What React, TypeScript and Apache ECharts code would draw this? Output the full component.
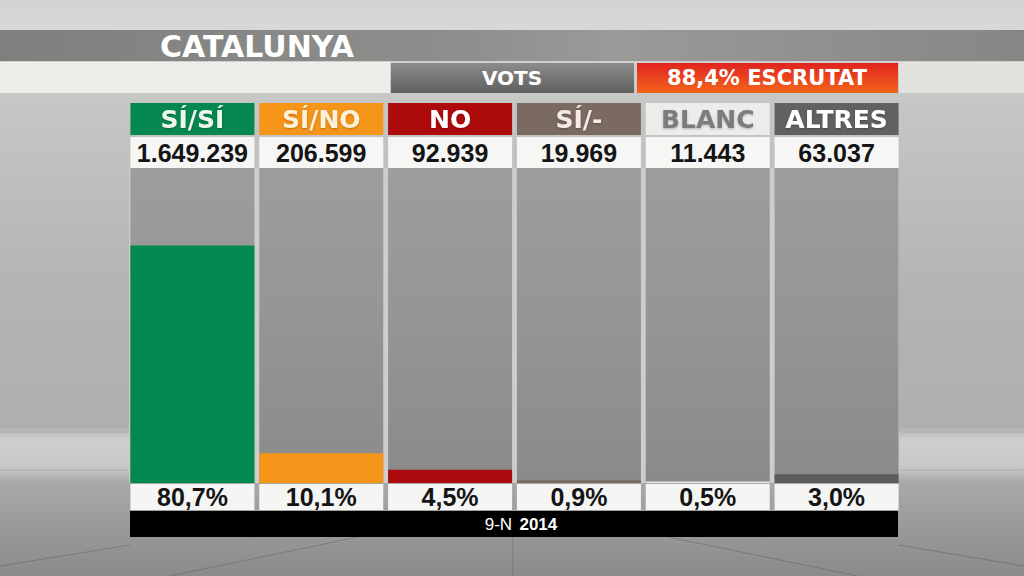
import React, { useEffect, useRef } from "react";
import * as echarts from "echarts";

const categories = ["SÍ/SÍ", "SÍ/NO", "NO", "SÍ/-", "BLANC", "ALTRES"];
const votes = ["1.649.239", "206.599", "92.939", "19.969", "11.443", "63.037"];
const percents = [80.7, 10.1, 4.5, 0.9, 0.5, 3.0];
const barColors = ["#02894f", "#f5951a", "#a90b0e", "#7c6b62", "#e6e6e4", "#5c5c5c"];
const headerBg = ["#05884f", "#f5951a", "#ad0a0c", "#7a6a60", "#ececea", "#616161"];
const headerFg = ["#eef5ee", "#fdf0d8", "#ffffff", "#f3ebe6", "#7c7c7c", "#ffffff"];
const regionTitle = "CATALUNYA";
const votesTitle = "VOTS";
const countedTitle = "88,4% ESCRUTAT";
const footerLeft = "9-N";
const footerRight = "2014";

const FONT = "'Liberation Sans', Arial, sans-serif";
const WIDE = "'DejaVu Sans', sans-serif";

const pctLabel = (v: number) => v.toFixed(1).replace(".", ",") + "%";

export default function App() {
  const ref = useRef<HTMLDivElement>(null);
  useEffect(() => {
    if (!ref.current) return;
    const chart = echarts.init(ref.current, null, { renderer: "svg" });

    const headerRich: any = {};
    categories.forEach((_, i) => {
      headerRich["h" + i] = {
        width: 124,
        height: 32,
        lineHeight: 32,
        align: "center",
        backgroundColor: headerBg[i],
        color: headerFg[i],
        fontSize: 25,
        fontWeight: "bold",
        fontFamily: WIDE,
        textShadowColor: "rgba(0,0,0,0.25)",
        textShadowBlur: 2,
        textShadowOffsetY: 1,
      };
    });

    const floorLine = (x1: number, y1: number, x2: number, y2: number, a = 0.3) => ({
      type: "line",
      shape: { x1, y1, x2, y2 },
      style: { stroke: `rgba(70,70,70,${a})`, lineWidth: 1 },
      z: 0,
    });

    const option: any = {
      animation: false,
      backgroundColor: {
        type: "linear",
        x: 0, y: 0, x2: 0, y2: 1,
        colorStops: [
          { offset: 0, color: "#d2d2d0" },
          { offset: 0.05, color: "#d8d8d6" },
          { offset: 0.18, color: "#c6c6c4" },
          { offset: 0.5, color: "#b4b4b2" },
          { offset: 0.74, color: "#afafad" },
          { offset: 0.765, color: "#d0d0ce" },
          { offset: 0.815, color: "#c6c6c4" },
          { offset: 0.835, color: "#a9a9a7" },
          { offset: 1, color: "#8a8a88" },
        ],
      },
      grid: { left: 128, right: 123, top: 168, bottom: 93, containLabel: false },
      xAxis: [
        {
          type: "category",
          data: categories,
          position: "bottom",
          axisLine: { show: false },
          axisTick: { show: false },
          axisLabel: {
            interval: 0,
            margin: 1,
            formatter: (_v: string, i: number) => `{p|${pctLabel(percents[i])}}`,
            rich: {
              p: {
                width: 124,
                height: 26,
                lineHeight: 26,
                align: "center",
                backgroundColor: "#f5f5f4",
                color: "#141414",
                fontSize: 25,
                fontWeight: "bold",
                fontFamily: FONT,
              },
            },
          },
        },
        {
          type: "category",
          data: categories,
          position: "top",
          offset: 0,
          axisLine: { show: false },
          axisTick: { show: false },
          axisLabel: {
            interval: 0,
            margin: 0,
            formatter: (_v: string, i: number) => `{v|${votes[i]}}`,
            rich: {
              v: {
                width: 124,
                height: 31,
                lineHeight: 31,
                align: "center",
                backgroundColor: "#f6f6f5",
                color: "#141414",
                fontSize: 25,
                fontWeight: "bold",
                fontFamily: FONT,
              },
            },
          },
        },
        {
          type: "category",
          data: categories,
          position: "top",
          offset: 33,
          axisLine: { show: false },
          axisTick: { show: false },
          axisLabel: {
            interval: 0,
            margin: 0,
            formatter: (v: string, i: number) => `{h${i}|${v}}`,
            rich: headerRich,
          },
        },
      ],
      yAxis: { type: "value", min: 0, max: 107, show: false },
      series: [
        {
          type: "bar",
          xAxisIndex: 0,
          barWidth: 124,
          z: 3,
          data: percents.map((v, i) => ({ value: v, itemStyle: { color: barColors[i] } })),
          showBackground: true,
          backgroundStyle: {
            color: {
              type: "linear",
              x: 0, y: 0, x2: 0, y2: 1,
              colorStops: [
                { offset: 0, color: "#9d9d9b" },
                { offset: 0.5, color: "#959593" },
                { offset: 1, color: "#8a8a88" },
              ],
            },
          },
        },
      ],
      graphic: [
        floorLine(358, 537, 170, 576),
        floorLine(513, 537, 513, 576),
        floorLine(668, 537, 858, 576),
        floorLine(130, 545, 0, 566),
        floorLine(898, 545, 1024, 566),
        floorLine(0, 432, 128, 432, 0.15),
        floorLine(900, 432, 1024, 432, 0.15),
        floorLine(0, 470, 128, 470, 0.2),
        floorLine(900, 470, 1024, 470, 0.2),
        {
          type: "rect",
          shape: { x: 129, y: 168, width: 770, height: 315 },
          style: { fill: "#cdcdcb" },
          z: 0,
        },
        {
          type: "rect",
          shape: { x: 0, y: 30, width: 1024, height: 31 },
          style: {
            fill: {
              type: "linear",
              x: 0, y: 0, x2: 1, y2: 0,
              colorStops: [
                { offset: 0, color: "#7f7f7d" },
                { offset: 0.45, color: "#8e8e8c" },
                { offset: 0.6, color: "#9a9a98" },
                { offset: 1, color: "#868684" },
              ],
            },
          },
          z: 1,
        },
        {
          type: "text",
          x: 160,
          y: 46,
          style: {
            text: regionTitle,
            fill: "#ffffff",
            font: `bold 30px ${WIDE}`,
            textVerticalAlign: "middle",
          },
          z: 2,
        },
        {
          type: "rect",
          shape: { x: 0, y: 62, width: 390, height: 31 },
          style: { fill: "#edede9" },
          z: 1,
        },
        {
          type: "rect",
          shape: { x: 899, y: 62, width: 125, height: 31 },
          style: { fill: "#e2e2de" },
          z: 1,
        },
        {
          type: "rect",
          shape: { x: 391, y: 63, width: 243, height: 30 },
          style: {
            fill: {
              type: "linear",
              x: 0, y: 0, x2: 0, y2: 1,
              colorStops: [
                { offset: 0, color: "#8c8c8c" },
                { offset: 1, color: "#5f5f5f" },
              ],
            },
          },
          z: 1,
        },
        {
          type: "text",
          x: 512,
          y: 78,
          style: {
            text: votesTitle,
            fill: "#ffffff",
            font: `bold 20px ${WIDE}`,
            textAlign: "center",
            textVerticalAlign: "middle",
          },
          z: 2,
        },
        {
          type: "rect",
          shape: { x: 637, y: 63, width: 261, height: 30 },
          style: {
            fill: {
              type: "linear",
              x: 0, y: 0, x2: 0, y2: 1,
              colorStops: [
                { offset: 0, color: "#e0241f" },
                { offset: 1, color: "#f2651c" },
              ],
            },
          },
          z: 1,
        },
        {
          type: "text",
          x: 767,
          y: 78,
          style: {
            text: countedTitle,
            fill: "#ffffff",
            font: `bold 21px ${WIDE}`,
            textAlign: "center",
            textVerticalAlign: "middle",
          },
          z: 2,
        },
        {
          type: "rect",
          shape: { x: 130, y: 511, width: 768, height: 26 },
          style: { fill: "#000000" },
          z: 1,
        },
        {
          type: "text",
          x: 521,
          y: 524,
          style: {
            text: `{a|${footerLeft}} {b|${footerRight}}`,
            textAlign: "center",
            textVerticalAlign: "middle",
            rich: {
              a: { fill: "#ffffff", fontSize: 17, fontFamily: FONT, padding: [0, 4, 0, 0] },
              b: { fill: "#ffffff", fontSize: 17, fontWeight: "bold", fontFamily: FONT },
            },
          },
          z: 2,
        },
      ],
    };
    chart.setOption(option);
    return () => chart.dispose();
  }, []);
  return (
    <div
      ref={ref}
      style={{ position: "fixed", left: 0, top: 0, width: 1024, height: 576 }}
    />
  );
}
